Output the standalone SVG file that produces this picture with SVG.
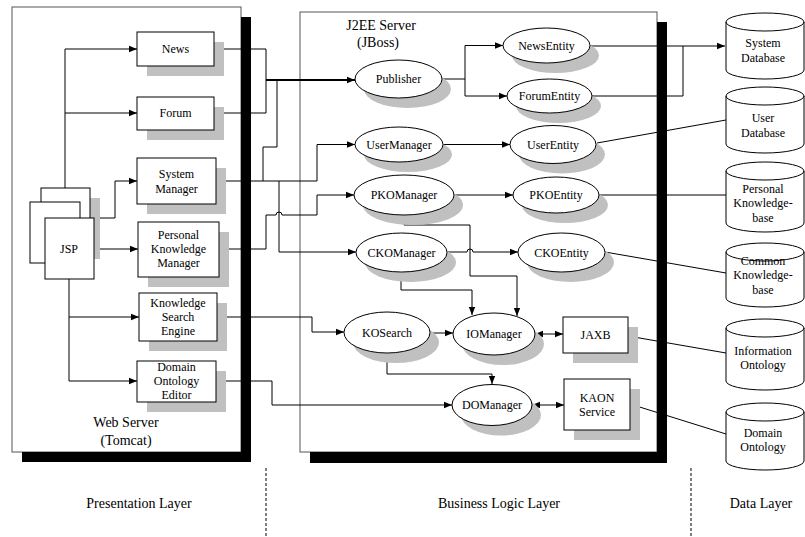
<svg xmlns="http://www.w3.org/2000/svg" width="805" height="537" viewBox="0 0 805 537">
<style>
text{font-family:"Liberation Serif","Times New Roman",serif;font-size:12px;fill:#000;text-anchor:middle}
.big{font-size:14px}
.box{fill:#fff;stroke:#000;stroke-width:1}
.sh{fill:#c0c0c0;stroke:none}
.panel{fill:#fff;stroke:#555;stroke-width:1}
.blk{fill:#000;stroke:none}
.c{fill:none;stroke:#000;stroke-width:1}
.a{marker-end:url(#ah)}
.b{marker-start:url(#ah);marker-end:url(#ah)}
.dash{fill:none;stroke:#000;stroke-width:1;stroke-dasharray:3 2}
</style>
<defs>
<marker id="ah" viewBox="0 0 8 8" refX="8" refY="4" markerWidth="8" markerHeight="8" markerUnits="userSpaceOnUse" orient="auto-start-reverse"><path d="M0,0.8 L8,4 L0,7.2 z" fill="#000"/></marker>
</defs>
<rect width="805" height="537" fill="#fff"/>
<g id="panels">
<rect class="panel" x="12" y="7" width="229" height="445"/>
<rect class="panel" x="300" y="12" width="357" height="440"/>
<text class="big" x="126" y="427">Web Server</text>
<text class="big" x="126" y="445">(Tomcat)</text>
<text class="big" x="381" y="30">J2EE Server</text>
<text class="big" x="378" y="47">(JBoss)</text>
</g>
<g id="connectors">
<path class="c a" d="M65,188 V49 H137"/>
<path class="c a" d="M65,113 H137"/>
<path class="c a" d="M94,218 H115 V181 H137"/>
<path class="c a" d="M94,249 H138"/>
<path class="c a" d="M69,279 V317 H139"/>
<path class="c a" d="M69,317 V381 H137"/>
<path class="c" d="M214,49 H266 V113 H214"/>
<path class="c a" style="stroke-width:2" d="M266,80 H355"/>
<path class="c a" d="M216,181 H317 V144.5 H355"/>
<path class="c" d="M263,181 V147 H277 V80"/>
<path class="c a" d="M279,181 V252 H356"/>
<path class="c a" d="M219,249 H266 V215 H276 A3,3 0 0 1 282,215 H317 V195 H354"/>
<path class="c a" d="M217,317 H312 V332 H344"/>
<path class="c a" d="M216,381 H272 V405 H452"/>
<path class="c a" d="M442,79 H465 V45.5 H503"/>
<path class="c a" d="M465,79 V96 H507"/>
<path class="c a" d="M443,144.5 H510"/>
<path class="c a" d="M454,195 H513"/>
<path class="c a" d="M404,215 V225 H470 V276 H517 V316"/>
<path class="c a" d="M447,252 H467 A3,3 0 0 1 473,252 H518"/>
<path class="c a" d="M401,272 V290 H472 V315"/>
<path class="c a" d="M430,333 H453"/>
<path class="c a" d="M387,353 V374 H492 V384"/>
<path class="c b" d="M535,334 H563"/>
<path class="c b" d="M532,405 H564"/>
<path class="c a" d="M590,46 H725"/>
<path class="c" d="M592,96 H683 V46"/>
<path class="c" d="M597,143 L726,120"/>
<path class="c" d="M599,195 H726"/>
<path class="c" d="M605,252 L726,273"/>
<path class="c" d="M628,336 L726,353"/>
<path class="c" d="M630,404 L726,434"/>
</g>
<g id="jsp">
<rect class="sh" x="51" y="198" width="49" height="61"/>
<rect class="box" x="41" y="188" width="49" height="61"/>
<rect class="box" x="30" y="202" width="50" height="61"/>
<rect class="box" x="45" y="218" width="49" height="61"/>
<text x="69" y="253">JSP</text>
</g>
<g id="news">
<rect class="sh" x="147" y="42" width="77" height="34"/>
<rect class="box" x="137" y="32" width="77" height="34"/>
<text x="175.5" y="53">News</text>
</g>
<g id="forum">
<rect class="sh" x="147" y="107" width="77" height="33"/>
<rect class="box" x="137" y="97" width="77" height="33"/>
<text x="175.5" y="117">Forum</text>
</g>
<g id="system-manager">
<rect class="sh" x="147" y="168" width="79" height="46"/>
<rect class="box" x="137" y="158" width="79" height="46"/>
<text x="176.5" y="178">System</text>
<text x="176.5" y="193">Manager</text>
</g>
<g id="pk-manager">
<rect class="sh" x="148" y="232" width="81" height="55"/>
<rect class="box" x="138" y="222" width="81" height="55"/>
<text x="178.5" y="239">Personal</text>
<text x="178.5" y="253">Knowledge</text>
<text x="178.5" y="267">Manager</text>
</g>
<g id="search-engine">
<rect class="sh" x="149" y="303" width="78" height="48"/>
<rect class="box" x="139" y="293" width="78" height="48"/>
<text x="178" y="307">Knowledge</text>
<text x="178" y="321">Search</text>
<text x="178" y="335">Engine</text>
</g>
<g id="ontology-editor">
<rect class="sh" x="147" y="371" width="79" height="41"/>
<rect class="box" x="137" y="361" width="79" height="41"/>
<text x="176.5" y="371">Domain</text>
<text x="176.5" y="385">Ontology</text>
<text x="176.5" y="399">Editor</text>
</g>
<g id="publisher">
<ellipse class="sh" cx="407.5" cy="89" rx="43.5" ry="19"/>
<ellipse class="box" cx="398.5" cy="79" rx="43.5" ry="19"/>
<text x="398.5" y="83">Publisher</text>
</g>
<g id="news-entity">
<ellipse class="sh" cx="555.5" cy="55.5" rx="43.5" ry="17.5"/>
<ellipse class="box" cx="546.5" cy="45.5" rx="43.5" ry="17.5"/>
<text x="546.5" y="49.5">NewsEntity</text>
</g>
<g id="forum-entity">
<ellipse class="sh" cx="558.5" cy="106" rx="42.5" ry="17"/>
<ellipse class="box" cx="549.5" cy="96" rx="42.5" ry="17"/>
<text x="549.5" y="100">ForumEntity</text>
</g>
<g id="user-manager">
<ellipse class="sh" cx="408" cy="154.5" rx="44" ry="17.5"/>
<ellipse class="box" cx="399" cy="144.5" rx="44" ry="17.5"/>
<text x="399" y="148.5">UserManager</text>
</g>
<g id="user-entity">
<ellipse class="sh" cx="562" cy="154.5" rx="43" ry="19"/>
<ellipse class="box" cx="553" cy="144.5" rx="43" ry="19"/>
<text x="553" y="148.5">UserEntity</text>
</g>
<g id="pko-manager">
<ellipse class="sh" cx="413" cy="205" rx="50" ry="20"/>
<ellipse class="box" cx="404" cy="195" rx="50" ry="20"/>
<text x="404" y="199">PKOManager</text>
</g>
<g id="pko-entity">
<ellipse class="sh" cx="565" cy="205" rx="43" ry="18"/>
<ellipse class="box" cx="556" cy="195" rx="43" ry="18"/>
<text x="556" y="199">PKOEntity</text>
</g>
<g id="cko-manager">
<ellipse class="sh" cx="410.5" cy="262.5" rx="45.5" ry="19.5"/>
<ellipse class="box" cx="401.5" cy="252.5" rx="45.5" ry="19.5"/>
<text x="401.5" y="256.5">CKOManager</text>
</g>
<g id="cko-entity">
<ellipse class="sh" cx="570.5" cy="262.5" rx="43.5" ry="19.5"/>
<ellipse class="box" cx="561.5" cy="252.5" rx="43.5" ry="19.5"/>
<text x="561.5" y="256.5">CKOEntity</text>
</g>
<g id="ko-search">
<ellipse class="sh" cx="396" cy="342.5" rx="43" ry="20.5"/>
<ellipse class="box" cx="387" cy="332.5" rx="43" ry="20.5"/>
<text x="387" y="336.5">KOSearch</text>
</g>
<g id="io-manager">
<ellipse class="sh" cx="503" cy="344" rx="41" ry="21"/>
<ellipse class="box" cx="494" cy="334" rx="41" ry="21"/>
<text x="494" y="338">IOManager</text>
</g>
<g id="jaxb">
<rect class="sh" x="573" y="327" width="65" height="36"/>
<rect class="box" x="563" y="317" width="65" height="36"/>
<text x="595.5" y="339">JAXB</text>
</g>
<g id="do-manager">
<ellipse class="sh" cx="501" cy="415" rx="40" ry="20.5"/>
<ellipse class="box" cx="492" cy="405" rx="40" ry="20.5"/>
<text x="492" y="409">DOManager</text>
</g>
<g id="kaon">
<rect class="sh" x="574" y="389" width="66" height="51"/>
<rect class="box" x="564" y="379" width="66" height="51"/>
<text x="597" y="402">KAON</text>
<text x="597" y="416">Service</text>
</g>
<g id="panel-shadows">
<rect class="blk" x="241" y="17" width="10" height="445"/>
<rect class="blk" x="22" y="452" width="229" height="10"/>
<rect class="blk" x="657" y="22" width="10" height="441"/>
<rect class="blk" x="310" y="452" width="357" height="11"/>
</g>
<g id="system-db">
<path class="box" d="M726,22 A39,9 0 0 1 804,22 V70 A39,9 0 0 1 726,70 Z M726,22 A39,9 0 0 0 804,22"/>
<text x="763" y="47">System</text>
<text x="763" y="62">Database</text>
</g>
<g id="user-db">
<path class="box" d="M726,96 A39,9 0 0 1 804,96 V144 A39,9 0 0 1 726,144 Z M726,96 A39,9 0 0 0 804,96"/>
<text x="763" y="122">User</text>
<text x="763" y="137">Database</text>
</g>
<g id="personal-kb">
<path class="box" d="M726,171 A39,9 0 0 1 804,171 V223 A39,9 0 0 1 726,223 Z M726,171 A39,9 0 0 0 804,171"/>
<text x="763" y="193">Personal</text>
<text x="763" y="207">Knowledge-</text>
<text x="763" y="222">base</text>
</g>
<g id="common-kb">
<path class="box" d="M726,252 A39,9 0 0 1 804,252 V298 A39,9 0 0 1 726,298 Z M726,252 A39,9 0 0 0 804,252"/>
<text x="763" y="265">Common</text>
<text x="763" y="279">Knowledge-</text>
<text x="763" y="294">base</text>
</g>
<g id="info-ontology">
<path class="box" d="M726,328 A39,9 0 0 1 804,328 V381 A39,9 0 0 1 726,381 Z M726,328 A39,9 0 0 0 804,328"/>
<text x="763" y="355">Information</text>
<text x="763" y="369">Ontology</text>
</g>
<g id="domain-ontology">
<path class="box" d="M726,412 A39,9 0 0 1 804,412 V461 A39,9 0 0 1 726,461 Z M726,412 A39,9 0 0 0 804,412"/>
<text x="763" y="437">Domain</text>
<text x="763" y="451">Ontology</text>
</g>
<g id="layers">
<path class="dash" d="M266,468 V537 M691,468 V537"/>
<text class="big" x="139" y="508">Presentation Layer</text>
<text class="big" x="499" y="508">Business Logic Layer</text>
<text class="big" x="761" y="508">Data Layer</text>
</g>
</svg>
